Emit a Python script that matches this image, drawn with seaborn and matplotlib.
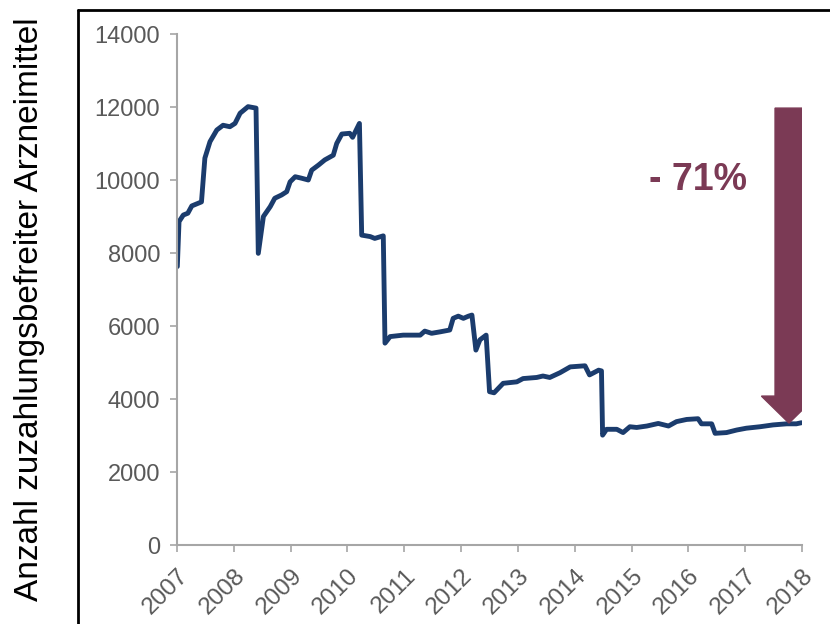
import matplotlib
matplotlib.use("Agg")
import matplotlib.pyplot as plt
import pandas as pd
import seaborn as sns

# decimal years and number of exempt drugs
years = [
    2007.005, 2007.035, 2007.11, 2007.19, 2007.26, 2007.43, 2007.49, 2007.58, 2007.70, 2007.81,
    2007.93, 2008.02, 2008.11, 2008.25, 2008.39, 2008.43, 2008.52, 2008.64, 2008.72, 2008.84,
    2008.93, 2008.99, 2009.08, 2009.19, 2009.31, 2009.37, 2009.49, 2009.60, 2009.75, 2009.81,
    2009.90, 2010.04, 2010.09, 2010.21, 2010.25, 2010.40, 2010.48, 2010.63, 2010.66, 2010.75,
    2010.98, 2011.28, 2011.36, 2011.48, 2011.63, 2011.80, 2011.86, 2011.95, 2012.04, 2012.13,
    2012.19, 2012.26, 2012.33, 2012.44, 2012.50, 2012.58, 2012.74, 2012.98, 2013.09, 2013.33,
    2013.44, 2013.56, 2013.74, 2013.92, 2014.18, 2014.26, 2014.42, 2014.47, 2014.49, 2014.56,
    2014.74, 2014.85, 2014.97, 2015.09, 2015.27, 2015.47, 2015.65, 2015.79, 2015.97, 2016.17,
    2016.23, 2016.41, 2016.47, 2016.67, 2016.85, 2017.02, 2017.26, 2017.49, 2017.73, 2017.90,
    2017.99,
]
counts = [
    7630, 8860, 9040, 9090, 9290, 9400, 10600, 11050, 11370, 11500,
    11460, 11550, 11830, 12010, 11970, 7990, 9000, 9270, 9500, 9590,
    9680, 9950, 10090, 10050, 10000, 10270, 10410, 10550, 10680, 11000,
    11260, 11280, 11170, 11550, 8490, 8450, 8400, 8470, 5530, 5710,
    5750, 5750, 5860, 5800, 5840, 5890, 6210, 6270, 6210, 6270,
    6300, 5340, 5620, 5750, 4200, 4170, 4430, 4470, 4560, 4590,
    4630, 4590, 4720, 4880, 4910, 4660, 4790, 4770, 3010, 3170,
    3170, 3080, 3240, 3220, 3260, 3330, 3260, 3380, 3440, 3460,
    3320, 3320, 3060, 3080, 3150, 3200, 3240, 3290, 3320, 3320,
    3350,
]
year_ticks = list(range(2007, 2019))
y_ticks = list(range(0, 14001, 2000))

# arrow showing the decline
arrow_x = 2017.77
arrow_from = 11970
arrow_to = 3340
label_text = "- 71%"

line_color = "#1b3c6d"
accent = "#7b3a55"
grey = "#a6a6a6"

sns.set_style("white")
plt.rcParams["font.family"] = ["Liberation Sans", "DejaVu Sans"]

df = pd.DataFrame({"year": years, "count": counts})

fig = plt.figure(figsize=(8.3, 6.24), dpi=100)
ax = fig.add_axes([0.2133, 0.1266, 0.7530, 0.8189])

sns.lineplot(data=df, x="year", y="count", ax=ax, color=line_color, linewidth=3.5)

ax.set_xlim(2007, 2018)
ax.set_ylim(0, 14000)
ax.set_xticks(year_ticks)
ax.set_xticklabels([str(y) for y in year_ticks], rotation=45, ha="right",
                   rotation_mode="anchor", fontsize=17.5, color="#595959")
ax.set_yticks(y_ticks)
ax.set_yticklabels([str(v) for v in y_ticks], fontsize=17, color="#595959")
ax.tick_params(axis="both", direction="out", length=5, width=1.2, color=grey,
               bottom=True, left=True)
ax.tick_params(axis="y", pad=7)
ax.tick_params(axis="x", pad=9)
ax.set_xlabel("")
ax.set_ylabel("")
for side in ["top", "right"]:
    ax.spines[side].set_visible(False)
for side in ["left", "bottom"]:
    ax.spines[side].set_color(grey)
    ax.spines[side].set_linewidth(1.5)

ax.arrow(arrow_x, arrow_from, 0, arrow_to - arrow_from, width=0.49, head_width=0.97,
         head_length=740, length_includes_head=True, color=accent, zorder=3)
ax.text(2016.17, 10000, label_text, fontsize=27, fontweight="bold", color=accent,
        ha="center", va="center")

fig.text(0.036, 0.505, "Anzahl zuzahlungsbefreiter Arzneimittel", rotation=90,
         fontsize=24, color="black", ha="center", va="center")

# black frame lines (left and top) around the plot area
fig.add_artist(plt.Line2D([0.094, 0.094], [0.0, 0.984], color="black", linewidth=2))
fig.add_artist(plt.Line2D([0.094, 1.0], [0.984, 0.984], color="black", linewidth=2))

fig.savefig("out.png", dpi=100)
